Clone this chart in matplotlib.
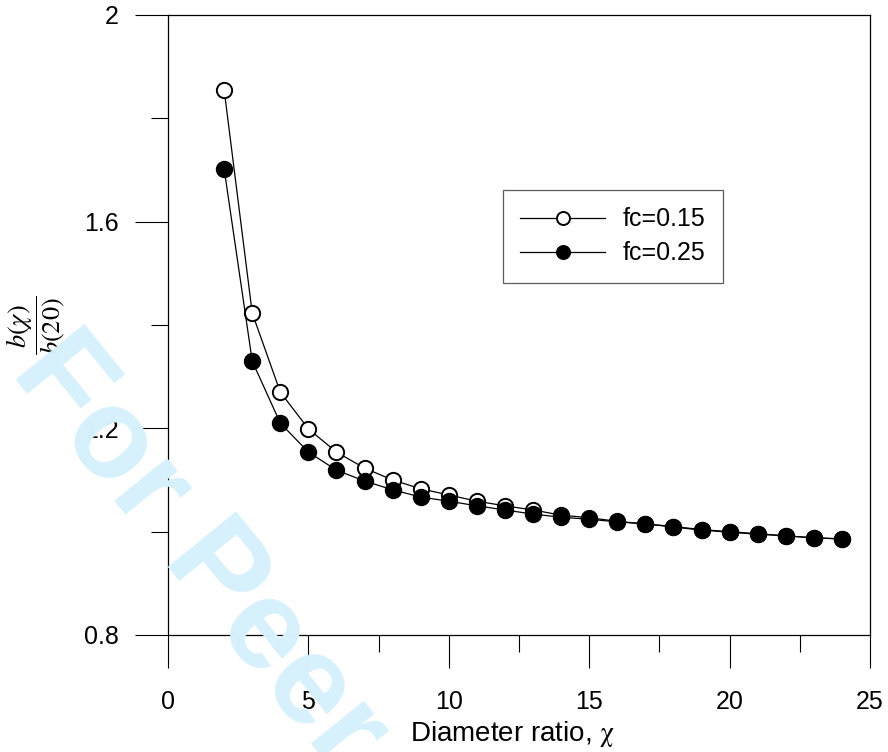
import matplotlib
matplotlib.use('Agg')
import matplotlib.pyplot as plt
from matplotlib.ticker import MultipleLocator

plt.rcParams['font.family'] = ['Liberation Sans', 'DejaVu Sans']
plt.rcParams['mathtext.fontset'] = 'stix'

# data
chi = [2, 3, 4, 5, 6, 7, 8, 9, 10, 11, 12, 13,
       14, 15, 16, 17, 18, 19, 20, 21, 22, 23, 24]
b_fc015 = [1.855, 1.423, 1.270, 1.199, 1.154, 1.123, 1.100, 1.083, 1.071, 1.059, 1.050, 1.042,
           1.032, 1.027, 1.020, 1.015, 1.010, 1.004, 1.000, 0.996, 0.992, 0.988, 0.986]
b_fc025 = [1.702, 1.330, 1.210, 1.154, 1.119, 1.098, 1.081, 1.067, 1.059, 1.050, 1.042, 1.034,
           1.028, 1.024, 1.019, 1.015, 1.009, 1.003, 0.999, 0.995, 0.992, 0.988, 0.986]
labels = ['fc=0.15', 'fc=0.25']
yticks = [0.8, 1.2, 1.6, 2.0]
ytick_labels = ['0.8', '1.2', '1.6', '2']

fig = plt.figure(figsize=(8.88, 7.52), dpi=100)
ax = fig.add_axes([168 / 888, 1 - 635 / 752, 702 / 888, 620 / 752])

# watermark
fig.text(10 / 888, 1 - 372 / 752, 'For Peer Review', fontsize=92, fontweight='bold',
         color='#d6f0fc', rotation=-51, rotation_mode='anchor',
         ha='left', va='baseline', zorder=0)
ax.set_facecolor('none')

ax.plot(chi, b_fc015, '-o', color='black', lw=0.9, markersize=11,
        markerfacecolor='white', markeredgecolor='black', markeredgewidth=1.4,
        label=labels[0])
ax.plot(chi, b_fc025, '-o', color='black', lw=0.9, markersize=11.5,
        markerfacecolor='black', markeredgecolor='black',
        label=labels[1])

ax.set_xlim(0, 25)
ax.set_ylim(0.8, 2.0)
ax.xaxis.set_major_locator(MultipleLocator(5))
ax.xaxis.set_minor_locator(MultipleLocator(2.5))
ax.set_yticks(yticks)
ax.set_yticklabels(ytick_labels)
ax.yaxis.set_minor_locator(MultipleLocator(0.2))
ax.tick_params(which='major', direction='out', length=23.5, width=0.8,
               labelsize=18)
ax.tick_params(which='minor', direction='out', length=12, width=0.8)
ax.tick_params(axis='x', which='major', pad=16)
ax.tick_params(axis='y', which='major', pad=12)
for s in ax.spines.values():
    s.set_linewidth(0.9)

ax.set_xlabel(r'Diameter ratio, $\mathrm{\chi}$', fontsize=20, labelpad=4)
ax.xaxis.label.set_x(0.491)
ax.set_ylabel(r'$\dfrac{b(\chi)}{b(20)}$', fontsize=19, rotation=90)
ax.yaxis.set_label_coords(-0.144, 0.5)

leg = ax.legend(loc='upper left', bbox_to_anchor=(0.477, 0.718), borderaxespad=0,
                fontsize=18, frameon=True, fancybox=False, edgecolor='#333333',
                handlelength=3.4, handletextpad=0.7, labelspacing=0.4,
                borderpad=0.7, markerscale=0.85)
leg.get_frame().set_linewidth(0.9)

fig.savefig('out.png', dpi=100)
